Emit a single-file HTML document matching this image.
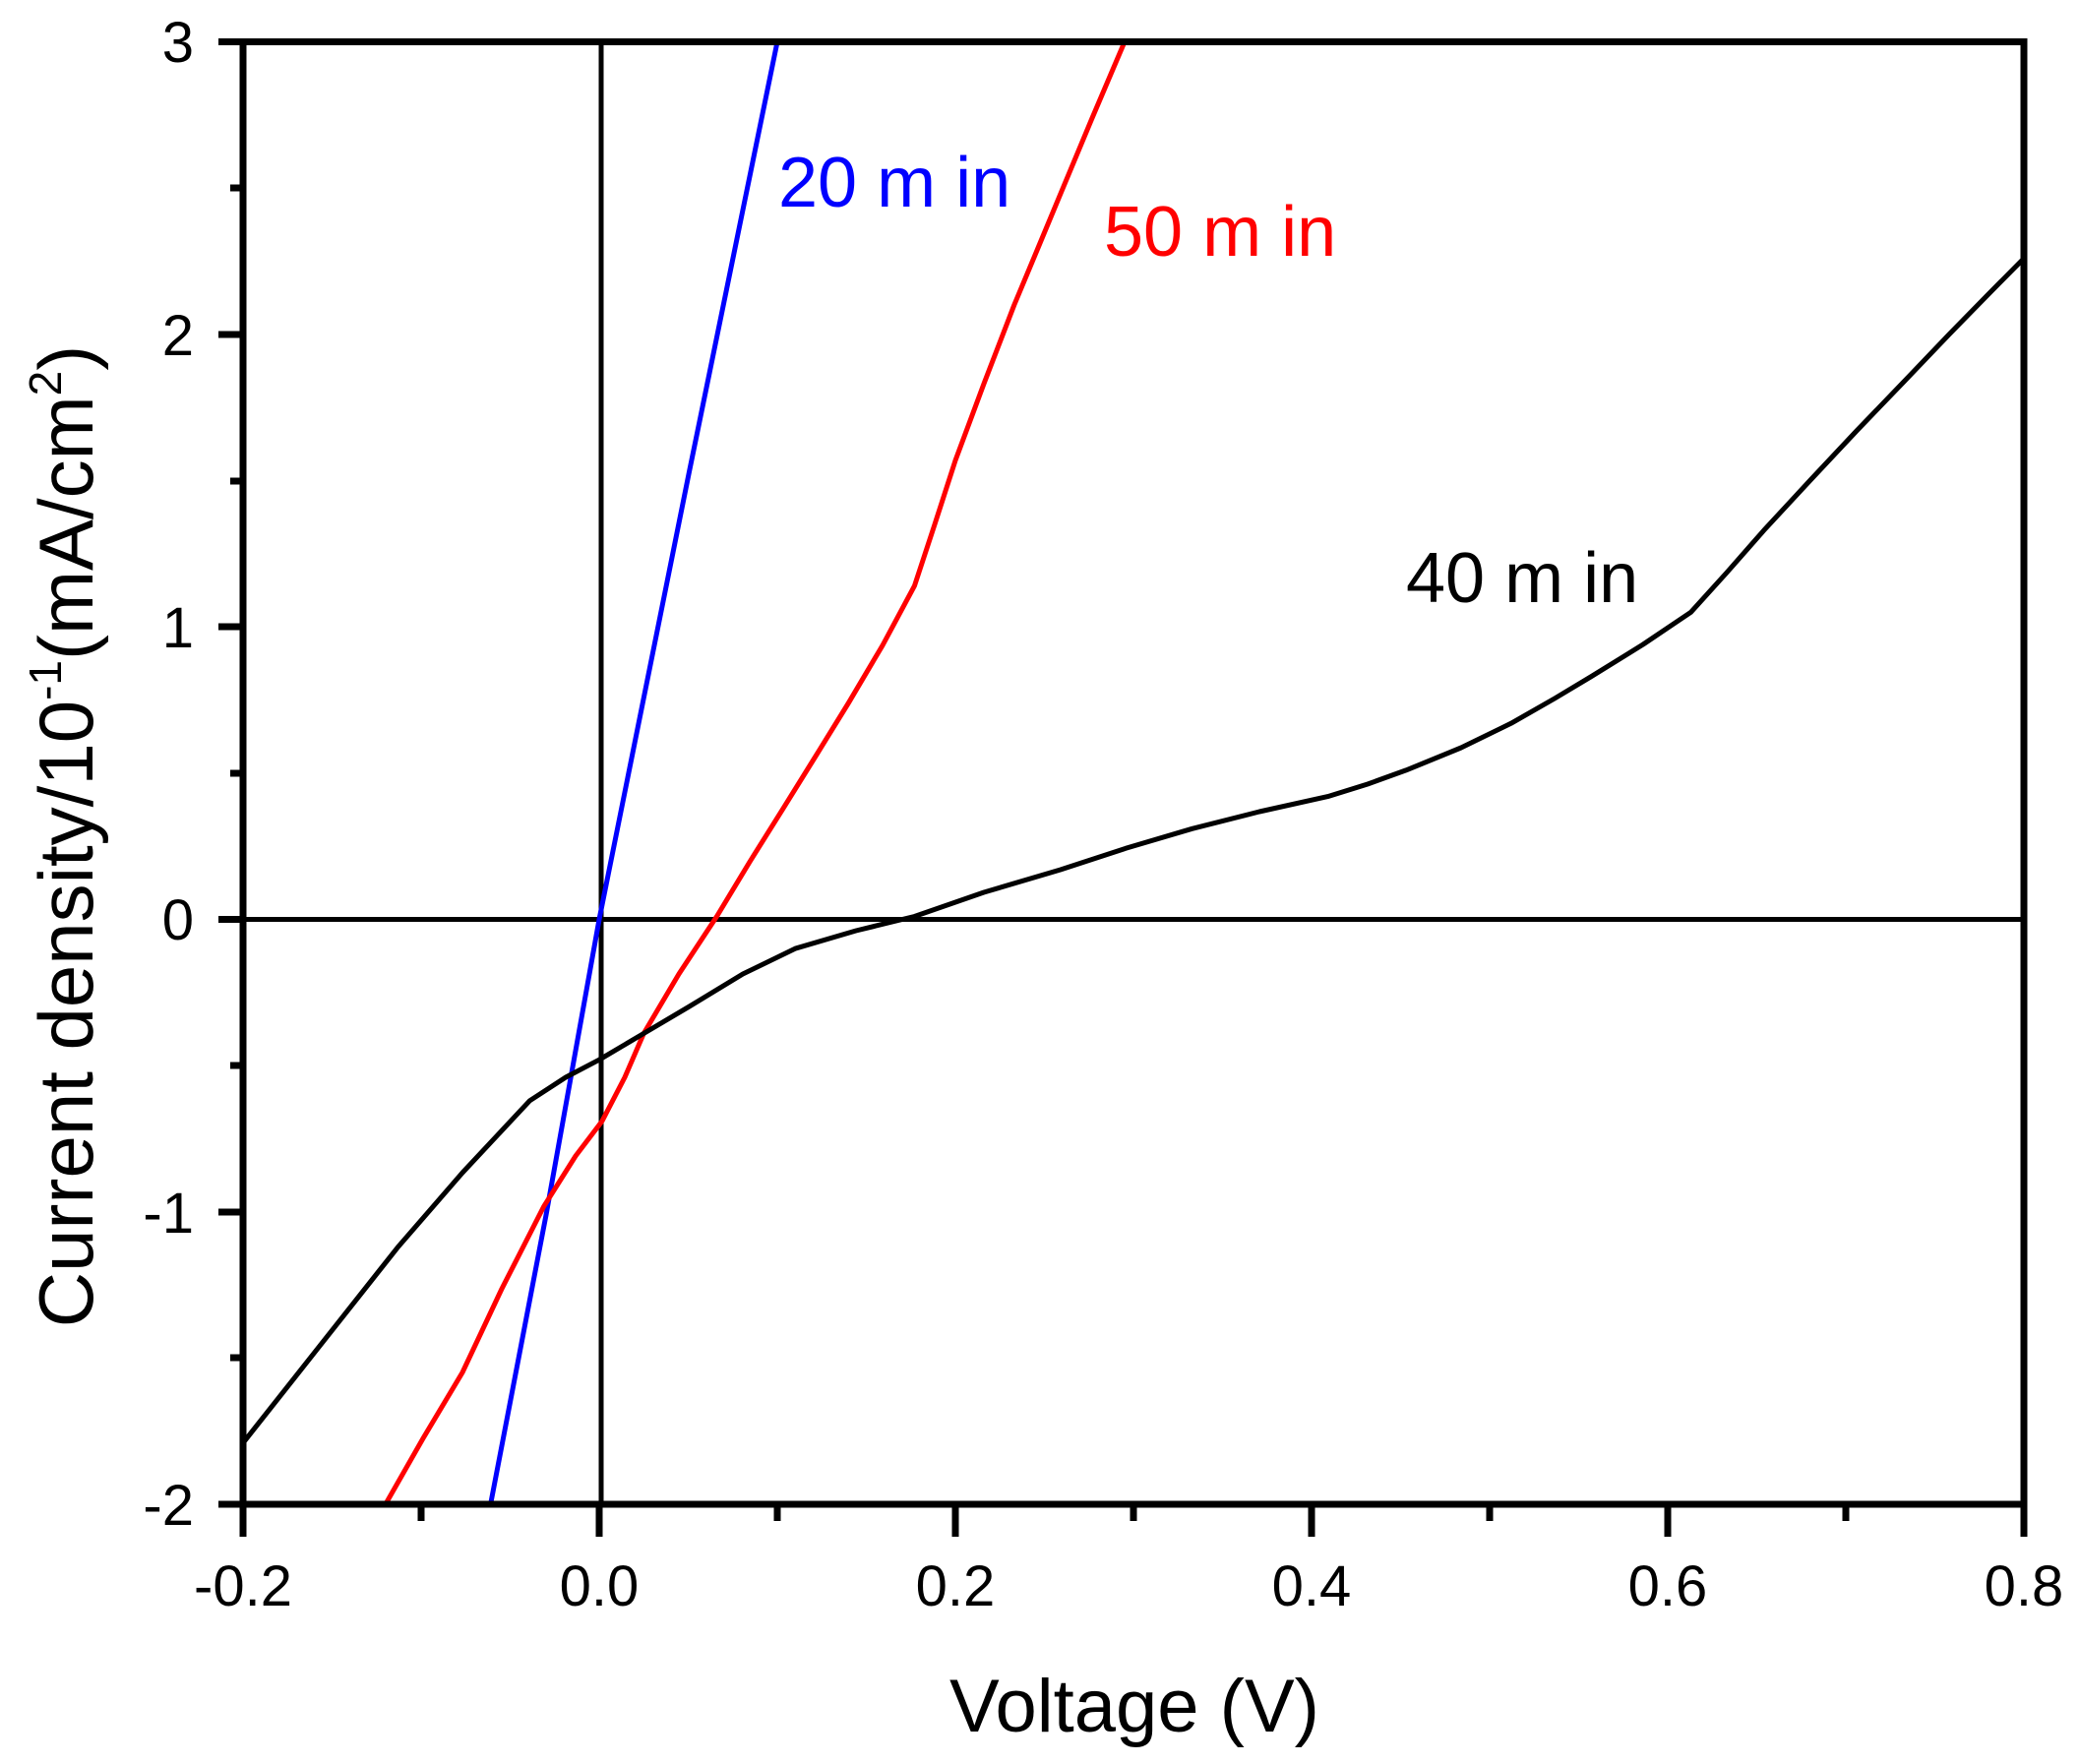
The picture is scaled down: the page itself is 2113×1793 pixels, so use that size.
<!DOCTYPE html>
<html><head><meta charset="utf-8"><style>
html,body{margin:0;padding:0;background:#fff;}
svg{display:block;font-family:"Liberation Sans",Arial,sans-serif;}
</style></head><body>
<svg width="2113" height="1793" viewBox="0 0 2113 1793" xmlns="http://www.w3.org/2000/svg">
<rect width="2113" height="1793" fill="#fff"/>
<g stroke="#000" stroke-width="5" fill="none">
<line x1="611" y1="42.5" x2="611" y2="1529"/>
<line x1="247" y1="934.5" x2="2057" y2="934.5"/>
</g>
<g fill="none" stroke-width="5" stroke-linejoin="round">
<polyline stroke="#0000ff" points="498.6,1529 555,1235 609,934.5 700,482 790,42.5"/>
<polyline stroke="#ff0000" points="391.8,1529 430,1462 470,1395 510,1310 552.9,1225.9 585,1175 611.9,1139.6 635,1095 654.3,1050.4 690,990 728.5,931.5 762,876 795.4,822.7 830,767 862.4,714.5 897,656 929.4,595.6 950,533 971,468 1000,390 1030.7,310.2 1055,252 1077.8,197.2 1110,120 1143,42.5"/>
<polyline stroke="#000" points="247,1466.7 325,1368 404.5,1267.5 470,1192 538.4,1118.8 575,1095 609,1077.2 655,1050 699.5,1023.7 755,990 808.1,964.2 870,946 929.4,931.5 1000,907 1077.8,884 1145,862 1211.7,842.3 1280,825 1349.5,809.6 1390,797 1429,782.9 1485,760 1535.7,735.3 1580,710 1617.2,687.7 1670,655 1718.5,622.3 1755,582 1792.7,539.1 1840,488 1886.9,438 1935,388 1981,339.9 2020,300 2057,262.6"/>
</g>
<g stroke="#000" stroke-width="7" fill="none">
<rect x="247" y="42.5" width="1810" height="1486.5"/>
<path d="M247,1529v33 M428,1529v17 M609,1529v33 M790,1529v17 M971,1529v33 M1152,1529v17 M1333,1529v33 M1514,1529v17 M1695,1529v33 M1876,1529v17 M2057,1529v33"/>
<path d="M247,42.5h-25 M247,191h-13 M247,340h-25 M247,489h-13 M247,637h-25 M247,786h-13 M247,934.5h-25 M247,1083h-13 M247,1232h-25 M247,1380h-13 M247,1529h-25"/>
</g>
<g font-size="58" fill="#000" text-anchor="middle">
<text x="247" y="1632">-0.2</text>
<text x="609" y="1632">0.0</text>
<text x="971" y="1632">0.2</text>
<text x="1333" y="1632">0.4</text>
<text x="1695" y="1632">0.6</text>
<text x="2057" y="1632">0.8</text>
</g>
<g font-size="58" fill="#000" text-anchor="end">
<text x="197" y="63">3</text>
<text x="197" y="361">2</text>
<text x="197" y="658">1</text>
<text x="197" y="955">0</text>
<text x="197" y="1253">-1</text>
<text x="197" y="1550">-2</text>
</g>
<text x="1153" y="1760" font-size="76" text-anchor="middle">Voltage (V)</text>
<text transform="translate(94,850) rotate(-90)" font-size="78" text-anchor="middle">Current density/10<tspan font-size="46" dy="-32">-1</tspan><tspan dy="32">(mA/cm</tspan><tspan font-size="46" dy="-32">2</tspan><tspan dy="32">)</tspan></text>
<text x="791" y="210" font-size="72" fill="#0000ff">20 m in</text>
<text x="1122" y="260" font-size="72" fill="#ff0000">50 m in</text>
<text x="1429" y="612" font-size="72" fill="#000">40 m in</text>
</svg>
</body></html>
